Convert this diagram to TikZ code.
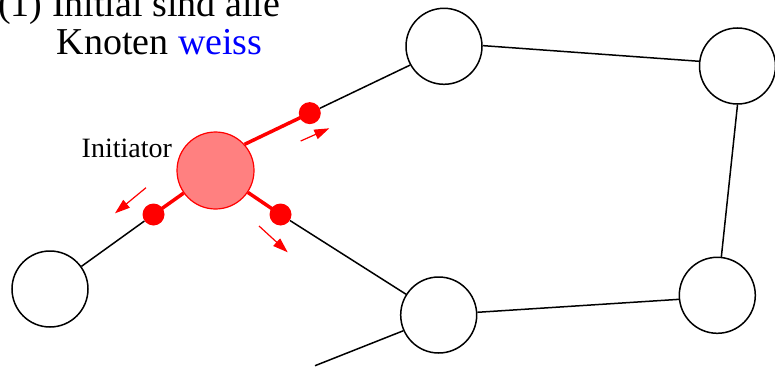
\documentclass[tikz,border=0pt]{standalone}
\usepackage{fontspec}
\setmainfont{Liberation Serif}
\usetikzlibrary{arrows.meta,calc}
\definecolor{initfill}{RGB}{255,128,128}
\begin{document}
\begin{tikzpicture}[x=1pt,y=-1pt,
  knot/.style={circle,draw=black,line width=1.5pt,minimum size=76pt,inner sep=0pt},
  starter/.style={circle,draw=red,fill=initfill,line width=1.2pt,minimum size=77pt,inner sep=0pt},
  msg/.style={circle,fill=red,minimum size=22pt,inner sep=0pt},
  link/.style={line width=1.5pt},
  hot/.style={red,line width=3.5pt},
  send/.style={red,line width=1.2pt,-{Triangle[length=15pt,width=10pt]}},
  big/.style={font=\fontsize{38}{38}\selectfont,inner sep=0pt,anchor=base west},
]
\useasboundingbox (0,0) rectangle (775,369);

% caption
\node[big] (cap1) at (-2,17) {(1) Initial sind alle};
\node[big] (cap2) at (56.5,55) {Knoten \textcolor{blue}{weiss}};
\node[font=\fontsize{28}{28}\selectfont,inner sep=0pt,anchor=base west] (lbl) at (81.5,157) {Initiator};

% graph nodes
\node[starter] (init) at (215.5,170.5) {};
\node[knot] (tm) at (444,46.3) {};
\node[knot] (tr) at (737.5,66) {};
\node[knot] (lb) at (50,289) {};
\node[knot] (bm) at (438.7,315) {};
\node[knot] (br) at (717.3,295.3) {};
\coordinate (loose) at (315,365.7);

% messages on their way
\node[msg] (d1) at ($(init.42)!0.394!(tm.209)$) {};
\node[msg] (d2) at (153.5,214.5) {};
\node[msg] (d3) at (280.5,214.5) {};

% edges
\draw[link] (tm.1) -- (tr.173.5);
\draw[link] (tr.-90) -- (br.84.5);
\draw[link] (br.186) -- (bm.4.5);
\draw[link] (bm.204) -- (loose);
\draw[link] (d1) -- (tm.209);
\draw[link] (d2) -- (lb);
\draw[link] (d3) -- (bm);
\draw[hot] (init.42) -- (d1.center);
\draw[hot] (init) -- (d2.center);
\draw[hot] (init) -- (d3.center);

% direction of the messages
\coordinate (a1s) at (300.7,141);
\coordinate (a1e) at (329.3,128.3);
\coordinate (a2s) at (146,187.7);
\coordinate (a2e) at (115,213.3);
\coordinate (a3s) at (259,226);
\coordinate (a3e) at (287.7,252.3);
\draw[send] (a1s) -- (a1e);
\draw[send] (a2s) -- (a2e);
\draw[send] (a3s) -- (a3e);
\end{tikzpicture}
\end{document}
